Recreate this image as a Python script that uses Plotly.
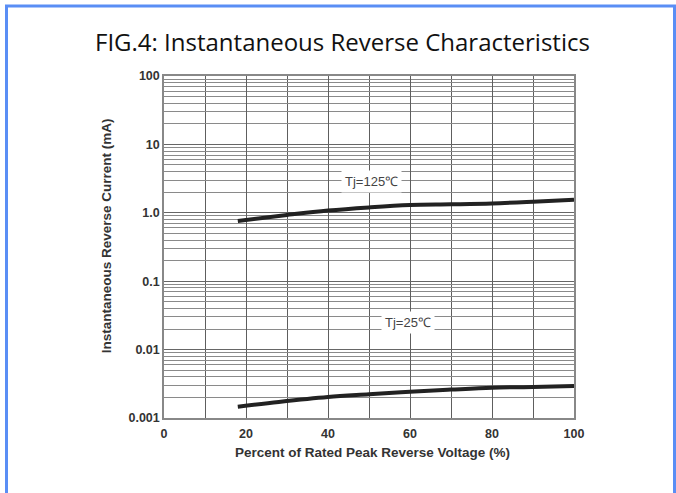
import math
import plotly.graph_objects as go

# Data
x_125 = [18, 30, 40, 50, 60, 70, 80, 90, 100]
y_125 = [0.76, 0.93, 1.08, 1.2, 1.3, 1.33, 1.37, 1.45, 1.55]
x_25 = [18, 28, 40, 50, 60, 70, 80, 90, 100]
y_25 = [0.00146, 0.00172, 0.00203, 0.00222, 0.00242, 0.0026, 0.00277, 0.00285, 0.00293]

x_ticks = [0, 20, 40, 60, 80, 100]
y_ticks = [0.001, 0.01, 0.1, 1, 10, 100]
y_ticktext = ["0.001", "0.01", "0.1", "1.0", "10", "100"]
y_minor = [k * 10 ** e for e in range(-3, 2) for k in range(2, 10)]

title_text = "FIG.4: Instantaneous Reverse Characteristics"
x_title = "Percent of Rated Peak Reverse Voltage (%)"
y_title = "Instantaneous Reverse Current (mA)"
labels = [("Tj=125℃", 50.7, 2.9), ("Tj=25℃", 59.5, 0.025)]

W, H = 676, 493
L, R, T, B = 164, 574, 75.5, 418

fig = go.Figure()
fig.add_trace(go.Scatter(x=x_125, y=y_125, mode="lines", line=dict(color="#222222", width=4, shape="spline"), showlegend=False))
fig.add_trace(go.Scatter(x=x_25, y=y_25, mode="lines", line=dict(color="#222222", width=4, shape="spline"), showlegend=False))

fig.update_xaxes(range=[0, 100], tickvals=x_ticks, showgrid=True, gridcolor="#5e5e5e", gridwidth=1,
                 minor=dict(dtick=10, showgrid=True, gridcolor="#5e5e5e", gridwidth=1),
                 showline=True, linecolor="#888888", linewidth=1.5, mirror=True, zeroline=False,
                 ticks="", ticklabelstandoff=3,
                 tickfont=dict(family="Liberation Sans", size=12.5, color="#333333", weight="bold"))
fig.update_yaxes(type="log", range=[-3, 2], tickvals=y_ticks, ticktext=y_ticktext, showgrid=True,
                 gridcolor="#666666", gridwidth=1,
                 minor=dict(tickvals=y_minor, showgrid=True, gridcolor="#8a8a8a", gridwidth=1),
                 showline=True, linecolor="#888888", linewidth=1.5, mirror=True, zeroline=False,
                 ticks="", tickfont=dict(family="Liberation Sans", size=12.5, color="#333333", weight="bold"))

for txt, lx, ly in labels:
    fig.add_annotation(x=lx, y=math.log10(ly), yref="y", xref="x", text=txt, showarrow=False, bgcolor="white",
                       font=dict(family="Liberation Sans", size=13, color="#444444"), borderpad=3)

pw, ph = R - L, B - T
def px(xp):
    return (xp - L) / pw
def py(yp):
    return (B - yp) / ph

fig.add_annotation(xref="paper", yref="paper", x=px(372), y=py(453), xanchor="center", yanchor="middle",
                   text="<b>" + x_title + "</b>", showarrow=False,
                   font=dict(family="Liberation Sans", size=13.5, color="#333333"))
fig.add_annotation(xref="paper", yref="paper", x=px(106), y=py(236), xanchor="center", yanchor="middle",
                   text="<b>" + y_title + "</b>", textangle=-90, showarrow=False,
                   font=dict(family="Liberation Sans", size=13.5, color="#333333"))
fig.add_annotation(xref="paper", yref="paper", x=px(342), y=py(41), xanchor="center", yanchor="middle",
                   text=title_text, showarrow=False, font=dict(family="Open Sans", size=24, color="#111111"))

fig.add_shape(type="path", xref="paper", yref="paper",
              path=f"M {px(6.5)} {py(520)} L {px(6.5)} {py(5.5)} L {px(674.5)} {py(5.5)} L {px(674.5)} {py(520)}",
              line=dict(color="#5a8ef5", width=3))

fig.update_layout(width=W, height=H, margin=dict(l=L, r=W - R, t=T, b=H - B), paper_bgcolor="white",
                  plot_bgcolor="white", font=dict(family="Liberation Sans"))
fig.write_html("out.html", config={"displayModeBar": False},
               post_script="document.body.style.margin='0px';")
